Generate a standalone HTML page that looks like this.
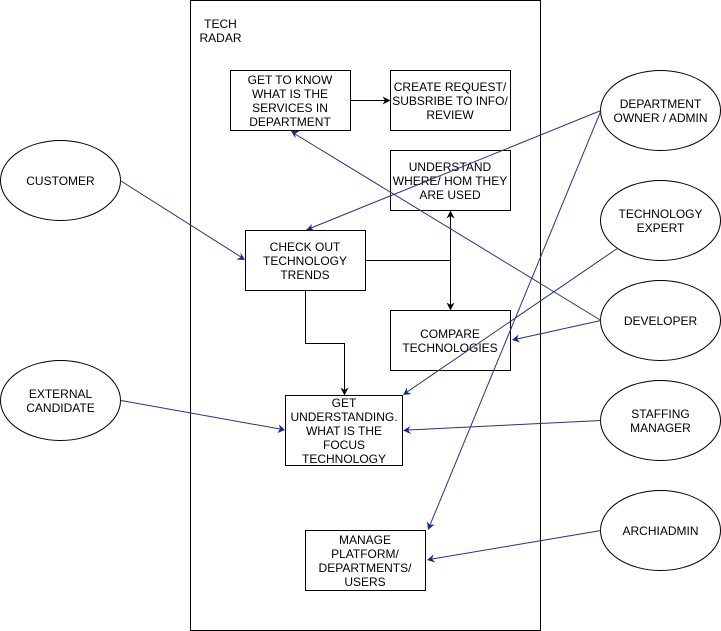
<!DOCTYPE html>
<html>
<head>
<meta charset="utf-8">
<style>
html,body{margin:0;padding:0;background:#fff;width:721px;height:631px;overflow:hidden}
svg{display:block;filter:blur(0.3px)}
text{font-family:"Liberation Sans",Arial,sans-serif;font-size:12px;fill:#000;text-anchor:middle}
.s{fill:#fff;stroke:#000;stroke-width:1}
.k{fill:none;stroke:#000;stroke-width:1}
.b{fill:none;stroke:#25347c;stroke-width:1}
.ah{fill:#16298c}
.ak{fill:#000}
</style>
</head>
<body>
<svg width="721" height="631" viewBox="0 0 721 631" xmlns="http://www.w3.org/2000/svg">
<rect x="0" y="0" width="721" height="631" fill="#fff"/>
<rect class="s" x="190.5" y="0.5" width="350" height="630"/>
<text x="220.5" y="28">TECH</text>
<text x="220.5" y="42">RADAR</text>

<rect class="s" x="230.5" y="70.5" width="120" height="60"/>
<text x="290" y="84">GET TO KNOW</text>
<text x="290" y="98">WHAT IS THE</text>
<text x="290" y="112">SERVICES IN</text>
<text x="290" y="126">DEPARTMENT</text>

<rect class="s" x="390.5" y="70.5" width="120" height="60"/>
<text x="450" y="91">CREATE REQUEST/</text>
<text x="450" y="105">SUBSRIBE TO INFO/</text>
<text x="450" y="119">REVIEW</text>

<rect class="s" x="390.5" y="150.5" width="120" height="60"/>
<text x="450" y="171">UNDERSTAND</text>
<text x="450" y="185">WHERE/ HOM THEY</text>
<text x="450" y="199">ARE USED</text>

<rect class="s" x="245.5" y="230.5" width="120" height="60"/>
<text x="305" y="251">CHECK OUT</text>
<text x="305" y="265">TECHNOLOGY</text>
<text x="305" y="279">TRENDS</text>

<rect class="s" x="390.5" y="310.5" width="120" height="60"/>
<text x="450" y="338">COMPARE</text>
<text x="450" y="352">TECHNOLOGIES</text>

<rect class="s" x="285.5" y="395.5" width="117" height="70"/>
<text x="344" y="407">GET</text>
<text x="344" y="421">UNDERSTANDING.</text>
<text x="344" y="435">WHAT IS THE</text>
<text x="344" y="449">FOCUS</text>
<text x="344" y="463">TECHNOLOGY</text>

<rect class="s" x="305.5" y="530.5" width="120" height="60"/>
<text x="365" y="544">MANAGE</text>
<text x="365" y="558">PLATFORM/</text>
<text x="365" y="572">DEPARTMENTS/</text>
<text x="365" y="586">USERS</text>

<ellipse class="s" cx="60.5" cy="180.5" rx="60" ry="40"/>
<text x="60.5" y="185">CUSTOMER</text>
<ellipse class="s" cx="60.5" cy="400.5" rx="60" ry="40"/>
<text x="60.5" y="398">EXTERNAL</text>
<text x="60.5" y="412">CANDIDATE</text>

<ellipse class="s" cx="660.5" cy="110.5" rx="60" ry="40"/>
<text x="660.5" y="108">DEPARTMENT</text>
<text x="660.5" y="122">OWNER / ADMIN</text>
<ellipse class="s" cx="660.5" cy="220.5" rx="60" ry="40"/>
<text x="660.5" y="218">TECHNOLOGY</text>
<text x="660.5" y="232">EXPERT</text>
<ellipse class="s" cx="660.5" cy="320.5" rx="60" ry="40"/>
<text x="660.5" y="325">DEVELOPER</text>
<ellipse class="s" cx="660.5" cy="420.5" rx="60" ry="40"/>
<text x="660.5" y="418">STAFFING</text>
<text x="660.5" y="432">MANAGER</text>
<ellipse class="s" cx="660.5" cy="530.5" rx="60" ry="40"/>
<text x="660.5" y="535">ARCHIADMIN</text>

<path class="k" d="M350.5 100.5H385"/>
<polygon class="ak" points="390.5,100.5 382.5,96.5 385,100.5 382.5,104.5"/>
<path class="k" d="M365.5 260.5H450.5"/>
<path class="k" d="M450.5 216V305"/>
<polygon class="ak" points="450.5,210.5 446.5,218.5 450.5,216 454.5,218.5"/>
<polygon class="ak" points="450.5,310.5 446.5,302.5 450.5,305 454.5,302.5"/>
<path class="k" d="M305.5 290.5V343.5H344.5V390"/>
<polygon class="ak" points="344.5,395.5 340.5,387.5 344.5,390 348.5,387.5"/>

<path class="b" d="M601 110.5L311 228"/>
<polygon class="ah" points="306,230 312,224 311,228 315,231"/>
<path class="b" d="M601 110.5L430 525"/>
<polygon class="ah" points="428,530 427,521.5 430,525 434.5,524.5"/>
<path class="b" d="M618 248L407 392"/>
<polygon class="ah" points="403,395 407,387.5 407,392 411.5,394"/>
<path class="b" d="M601 320.5L295 134"/>
<polygon class="ah" points="291,131 299.5,131 295,134 295.5,138.5"/>
<path class="b" d="M601 320.5L517 339"/>
<polygon class="ah" points="512,340 518.5,334.5 517,339 520,342.5"/>
<path class="b" d="M601 420.5L408 430" stroke-width="1.2"/>
<polygon class="ah" points="403,430.5 410.5,426 408,430 411,434"/>
<path class="b" d="M601 530.5L432 559"/>
<polygon class="ah" points="427,560 433.5,554.5 432,559 435.5,562.5"/>
<path class="b" d="M121 181L241 257"/>
<polygon class="ah" points="245,260 236.5,259.5 241,257 240.5,252.5"/>
<path class="b" d="M121 400.5L280 429"/>
<polygon class="ah" points="285,430 277.5,433 280,429 279,424.5"/>
</svg>
</body>
</html>
